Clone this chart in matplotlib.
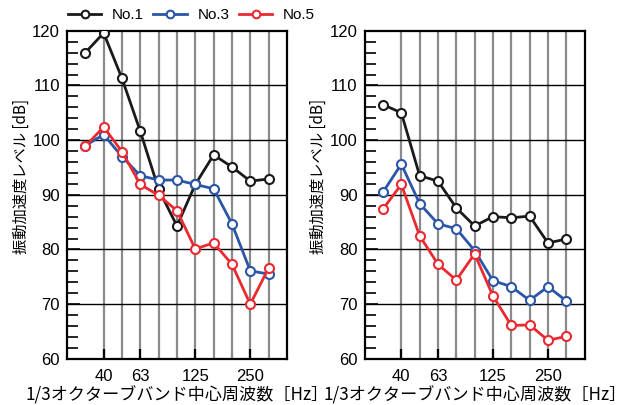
import numpy as np
import matplotlib
matplotlib.use('Agg')
import matplotlib.pyplot as plt

plt.rcParams['font.family'] = ['Liberation Sans', 'Noto Sans CJK JP', 'DejaVu Sans']

# 1/3 octave band centres (Hz)
bands = ['31.5', '40', '50', '63', '80', '100', '125', '160', '200', '250', '315']
shown_labels = {'40': '40', '63': '63', '125': '125', '250': '250'}

# left panel
left_no1 = [116.0, 119.6, 111.3, 101.6, 91.0, 84.3, 91.9, 97.3, 95.1, 92.5, 92.9]
left_no3 = [99.0, 101.0, 97.0, 93.5, 92.7, 92.7, 91.9, 91.1, 84.7, 76.1, 75.5]
left_no5 = [98.9, 102.4, 97.9, 91.9, 89.9, 87.1, 80.1, 81.2, 77.3, 70.0, 76.6]

# right panel
right_no1 = [106.5, 105.0, 93.5, 92.5, 87.6, 84.3, 86.0, 85.8, 86.1, 81.2, 81.9]
right_no3 = [90.5, 95.6, 88.4, 84.7, 83.8, 79.8, 74.3, 73.2, 70.7, 73.2, 70.6]
right_no5 = [87.4, 91.9, 82.5, 77.3, 74.4, 79.2, 71.5, 66.1, 66.2, 63.4, 64.1]

series_names = ['No.1', 'No.3', 'No.5']
colors = ['#1a1a1a', '#2b55a6', '#ea2a30']

xlabel = '1/3オクターブバンド中心周波数［Hz］'
ylabel = '振動加速度レベル [dB]'
jp = ['Noto Sans CJK JP', 'DejaVu Sans']

fig = plt.figure(figsize=(6.32, 4.05), dpi=100)
ax1 = fig.add_axes([0.106, 0.114, 0.348, 0.81])
ax2 = fig.add_axes([0.577, 0.114, 0.348, 0.81])

x = np.arange(len(bands))
tick_idx = [i for i, b in enumerate(bands) if b in shown_labels]

for ax, data in [(ax1, [left_no1, left_no3, left_no5]),
                 (ax2, [right_no1, right_no3, right_no5])]:
    ax.set_xlim(-1, len(bands))
    ax.set_ylim(60, 120)
    # vertical grid at every band except the first
    for i in x[1:]:
        ax.axvline(i, color='#8a8a8a', lw=1.6, zorder=1)
    for yv in range(70, 120, 10):
        ax.axhline(yv, color='black', lw=1.0, zorder=1)
    for vals, c, name in zip(data, colors, series_names):
        ax.plot(x, vals, '-o', color=c, lw=2.0, ms=6.5, mfc='white',
                mec=c, mew=1.5, label=name, zorder=3)
    ax.set_xticks(tick_idx)
    ax.set_xticklabels([shown_labels[bands[i]] for i in tick_idx])
    ax.set_yticks(range(60, 121, 10))
    ax.set_yticks(np.arange(60, 121, 2), minor=True)
    ax.tick_params(axis='y', which='major', direction='in', length=9, width=1.2,
                   labelsize=12, pad=5)
    ax.tick_params(axis='y', which='minor', direction='in', length=8, width=1.2)
    ax.tick_params(axis='x', which='major', direction='in', length=7, width=1.6,
                   labelsize=12, pad=7)
    for s in ax.spines.values():
        s.set_linewidth(1.6)
    ax.set_xlabel(xlabel, family=jp, fontsize=12.3, labelpad=2)
    ax.set_ylabel(ylabel, family=jp, fontsize=11, labelpad=4)
    ax.yaxis.set_label_coords(-0.17, 0.555)

handles, labels = ax1.get_legend_handles_labels()
fig.legend(handles, labels, loc='center', bbox_to_anchor=(0.303, 0.963), ncol=3,
           frameon=False, fontsize=11, handlelength=2.2, columnspacing=0.6,
           handletextpad=0.7, borderpad=0, markerscale=0.85)

fig.savefig('out.png', dpi=100)
